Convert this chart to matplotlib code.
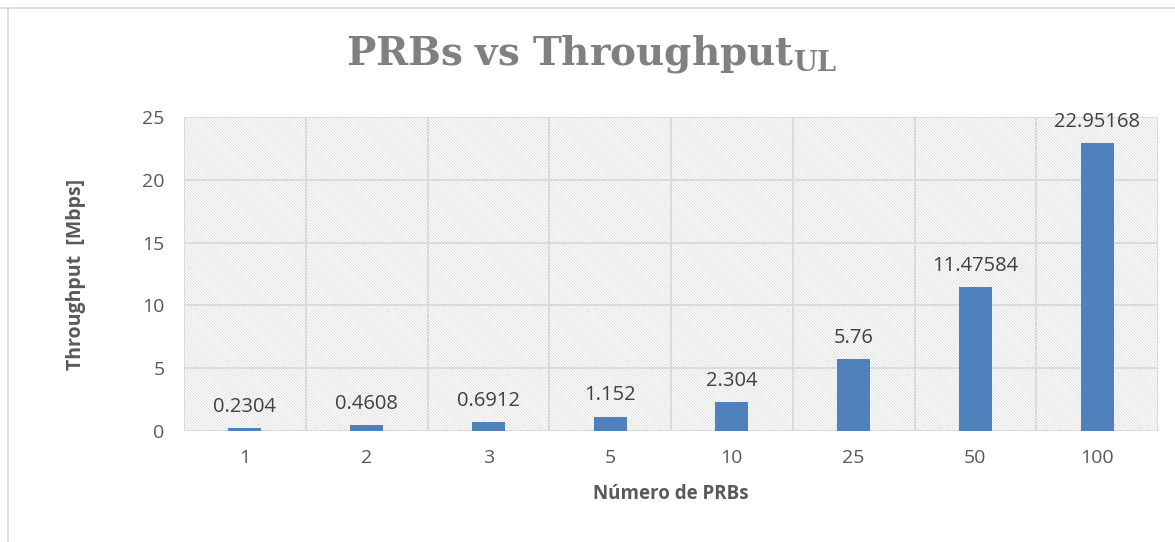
import matplotlib
matplotlib.use("Agg")
import matplotlib.pyplot as plt
from matplotlib.patches import Rectangle
from matplotlib.lines import Line2D

categories = ["1", "2", "3", "5", "10", "25", "50", "100"]
throughput = [0.2304, 0.4608, 0.6912, 1.152, 2.304, 5.76, 11.47584, 22.95168]
value_labels = ["0.2304", "0.4608", "0.6912", "1.152", "2.304", "5.76", "11.47584", "22.95168"]
yticks = [0, 5, 10, 15, 20, 25]

plt.rcParams['font.family'] = ['Open Sans', 'DejaVu Sans']
plt.rcParams['hatch.linewidth'] = 0.5
plt.rcParams['hatch.color'] = '#d6d6d6'
plt.rcParams['mathtext.fontset'] = 'custom'
plt.rcParams['mathtext.rm'] = 'DejaVu Serif'
plt.rcParams['mathtext.bf'] = 'DejaVu Serif:bold'

W, H = 1175, 542
fig = plt.figure(figsize=(W / 100, H / 100), dpi=100)
ax = fig.add_axes([184 / W, 1 - 431 / H, (1158 - 184) / W, (431 - 117) / H])

x = list(range(len(categories)))
# hatched background
ax.add_patch(Rectangle((0, 0), 1, 1, transform=ax.transAxes, facecolor='white',
                       edgecolor='#d6d6d6', hatch='\\' * 11, linewidth=0, zorder=0))
bars = ax.bar(x, throughput, width=0.27, color='#4f81bd', zorder=3)

ax.set_xlim(-0.5, len(categories) - 0.5)
ax.set_ylim(0, 25)
ax.set_yticks(yticks)
ax.set_yticklabels([str(t) for t in yticks])
ax.set_xticks(x)
ax.set_xticklabels(categories)

# gridlines
for t in yticks:
    ax.axhline(t, color='#d9d9d9', linewidth=1.3, zorder=1)
for b in [i - 0.5 for i in range(len(categories) + 1)]:
    ax.axvline(b, color='#d9d9d9', linewidth=1.3, zorder=1)

for s in ax.spines.values():
    s.set_visible(False)
ax.tick_params(length=0, labelsize=14, labelcolor='#595959')
ax.tick_params(axis='y', pad=14)
ax.tick_params(axis='x', pad=13)

for xi, v, lab in zip(x, throughput, value_labels):
    ax.annotate(lab, (xi, v), xytext=(0, 8), textcoords='offset points',
                ha='center', va='bottom', fontsize=14.5, color='#404040', zorder=4)

ax.set_ylabel('Throughput  [Mbps]', fontsize=14, fontweight='bold', color='#595959', labelpad=40)
ax.set_xlabel('Número de PRBs', fontsize=13.5, fontweight='bold', color='#595959', labelpad=12)

fig.text(592 / W, 1 - 54 / H, r'$\mathbf{PRBs\ vs\ Throughput_{UL}}$', ha='center', va='center',
         fontsize=28, color='#808080')

# outer frame lines
fig.add_artist(Line2D([0, 1], [1 - 8 / H, 1 - 8 / H], transform=fig.transFigure, color='#d9d9d9', linewidth=1.2))
fig.add_artist(Line2D([8 / W, 8 / W], [0, 1 - 8 / H], transform=fig.transFigure, color='#d9d9d9', linewidth=1.2))

fig.savefig('out.png', dpi=100)
